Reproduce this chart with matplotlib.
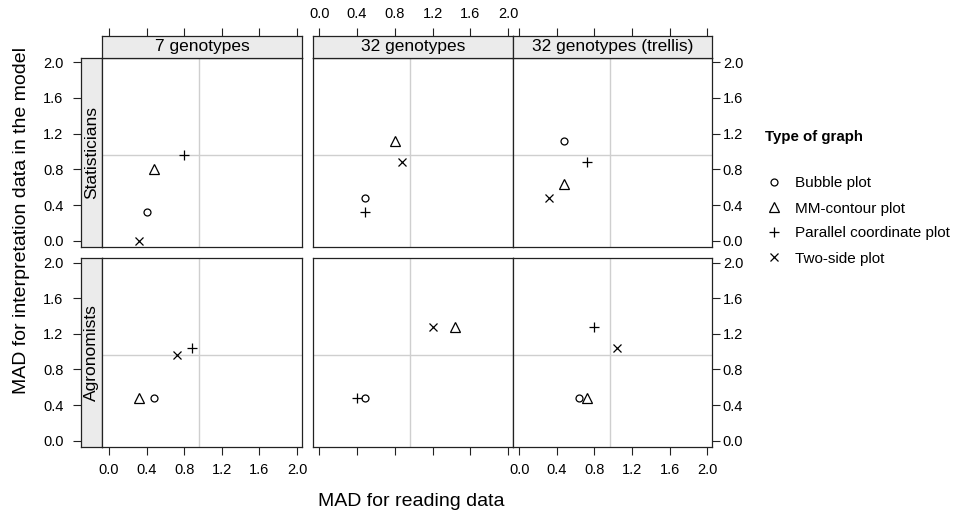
import matplotlib
matplotlib.use("Agg")
import matplotlib.pyplot as plt
from matplotlib.lines import Line2D

plt.rcParams['font.family'] = ['Liberation Sans', 'DejaVu Sans']

groups = ["Statisticians", "Agronomists"]
panels = ["7 genotypes", "32 genotypes", "32 genotypes (trellis)"]
graph_types = ["Bubble plot", "MM-contour plot", "Parallel coordinate plot", "Two-side plot"]

# order: Statisticians (3 panels), then Agronomists (3 panels)
bubble_read = [0.40, 0.48, 0.48, 0.48, 0.48, 0.64]
bubble_interp = [0.32, 0.48, 1.12, 0.48, 0.48, 0.48]
contour_read = [0.48, 0.80, 0.48, 0.32, 1.44, 0.72]
contour_interp = [0.80, 1.12, 0.64, 0.48, 1.28, 0.48]
parallel_read = [0.80, 0.48, 0.72, 0.88, 0.40, 0.80]
parallel_interp = [0.96, 0.32, 0.88, 1.04, 0.48, 1.28]
twoside_read = [0.32, 0.88, 0.32, 0.72, 1.20, 1.04]
twoside_interp = [0.00, 0.88, 0.48, 0.96, 1.28, 1.04]

ref_read = 0.96
ref_interp = 0.96
tick_vals = [0.0, 0.4, 0.8, 1.2, 1.6, 2.0]

series = [(bubble_read, bubble_interp), (contour_read, contour_interp),
          (parallel_read, parallel_interp), (twoside_read, twoside_interp)]
markers = ['o', '^', '+', 'x']
msizes = [5, 7, 7, 5.5]

XLIM = (-0.07, 2.05)
YLIM = (-0.067, 2.048)
EDGE = '#222222'
STRIP = '#EBEBEB'
TICK_LEN = 5.8

W, H = 954, 513
fig = plt.figure(figsize=(W / 100, H / 100), dpi=100)


def box(x0, y0, x1, y1):
    # pixel box (top-left origin) -> figure fraction
    return [x0 / W, 1 - y1 / H, (x1 - x0) / W, (y1 - y0) / H]


def style_spines(ax):
    for s in ax.spines.values():
        s.set_color(EDGE)
        s.set_linewidth(0.9)
    ax.tick_params(direction='out', length=TICK_LEN, width=0.8, color=EDGE,
                   labelsize=10.5)


col_x = [(102.3, 301.7), (312.7, 512.7), (512.7, 712.0)]
row_y = [(58.0, 246.7), (258.3, 446.7)]

for r in range(2):
    y0, y1 = row_y[r]
    # row strip on the left, carrying the y axis
    sax = fig.add_axes(box(80.7, y0, 102.3, y1))
    sax.set_facecolor(STRIP)
    sax.set_ylim(YLIM)
    sax.set_xticks([])
    sax.set_yticks(tick_vals)
    sax.set_yticklabels([f"{v:.1f}" for v in tick_vals])
    style_spines(sax)
    sax.tick_params(axis='y', pad=6.5)
    sax.text(0.5, 0.5, groups[r], rotation=90, ha='center', va='center',
             fontsize=12.5, transform=sax.transAxes)

    for c in range(3):
        x0, x1 = col_x[c]
        ax = fig.add_axes(box(x0, y0, x1, y1))
        ax.set_xlim(XLIM)
        ax.set_ylim(YLIM)
        ax.axvline(ref_read, color='#CFCFCF', lw=1, zorder=1)
        ax.axhline(ref_interp, color='#CFCFCF', lw=1, zorder=1)
        i = r * 3 + c
        for (xs, ys), m, ms in zip(series, markers, msizes):
            ax.plot([xs[i]], [ys[i]], linestyle='none', marker=m, ms=ms,
                    mfc='none', mec='black', mew=0.9, zorder=3)
        style_spines(ax)
        ax.set_xticks(tick_vals)
        ax.set_yticks(tick_vals)
        ax.set_xticklabels([f"{v:.1f}" for v in tick_vals])
        ax.set_yticklabels([f"{v:.1f}" for v in tick_vals])
        ax.tick_params(left=False, labelleft=False,
                       right=(c == 2), labelright=(c == 2),
                       bottom=(r == 1), labelbottom=(r == 1 and c != 1),
                       top=False, labeltop=False)
        ax.tick_params(axis='y', pad=2)
        ax.tick_params(axis='x', pad=6)

        if r == 0:
            # column strip on top, carrying the top x axis
            cax = fig.add_axes(box(x0, 35.7, x1, 58.0))
            cax.set_facecolor(STRIP)
            cax.set_xlim(XLIM)
            cax.set_yticks([])
            cax.set_xticks(tick_vals)
            cax.set_xticklabels([f"{v:.1f}" for v in tick_vals])
            style_spines(cax)
            cax.tick_params(bottom=False, labelbottom=False, top=True,
                            labeltop=(c == 1), pad=4.5)
            cax.text(0.5, 0.5, panels[c], ha='center', va='center',
                     fontsize=12.5, transform=cax.transAxes)

fig.text(411.7 / W, 1 - 501.7 / H, "MAD for reading data", ha='center',
         va='center', fontsize=14)
fig.text(21.7 / W, 1 - 221 / H, "MAD for interpretation data in the model",
         ha='center', va='center', rotation=90, fontsize=14)

# legend
fig.text(765 / W, 1 - 137 / H, "Type of graph", ha='left', va='center',
         fontsize=10.8, fontweight='bold')
handles = [Line2D([], [], linestyle='none', marker=m, ms=ms, mfc='none',
                  mec='black', mew=0.9) for m, ms in zip(markers, msizes)]
fig.legend(handles, graph_types, loc='center left',
           bbox_to_anchor=(766 / W, 1 - 221 / H), frameon=False,
           handlelength=1.0, handletextpad=0.9, labelspacing=0.72,
           borderpad=0, borderaxespad=0, fontsize=11)

fig.savefig("out.png", dpi=100)
